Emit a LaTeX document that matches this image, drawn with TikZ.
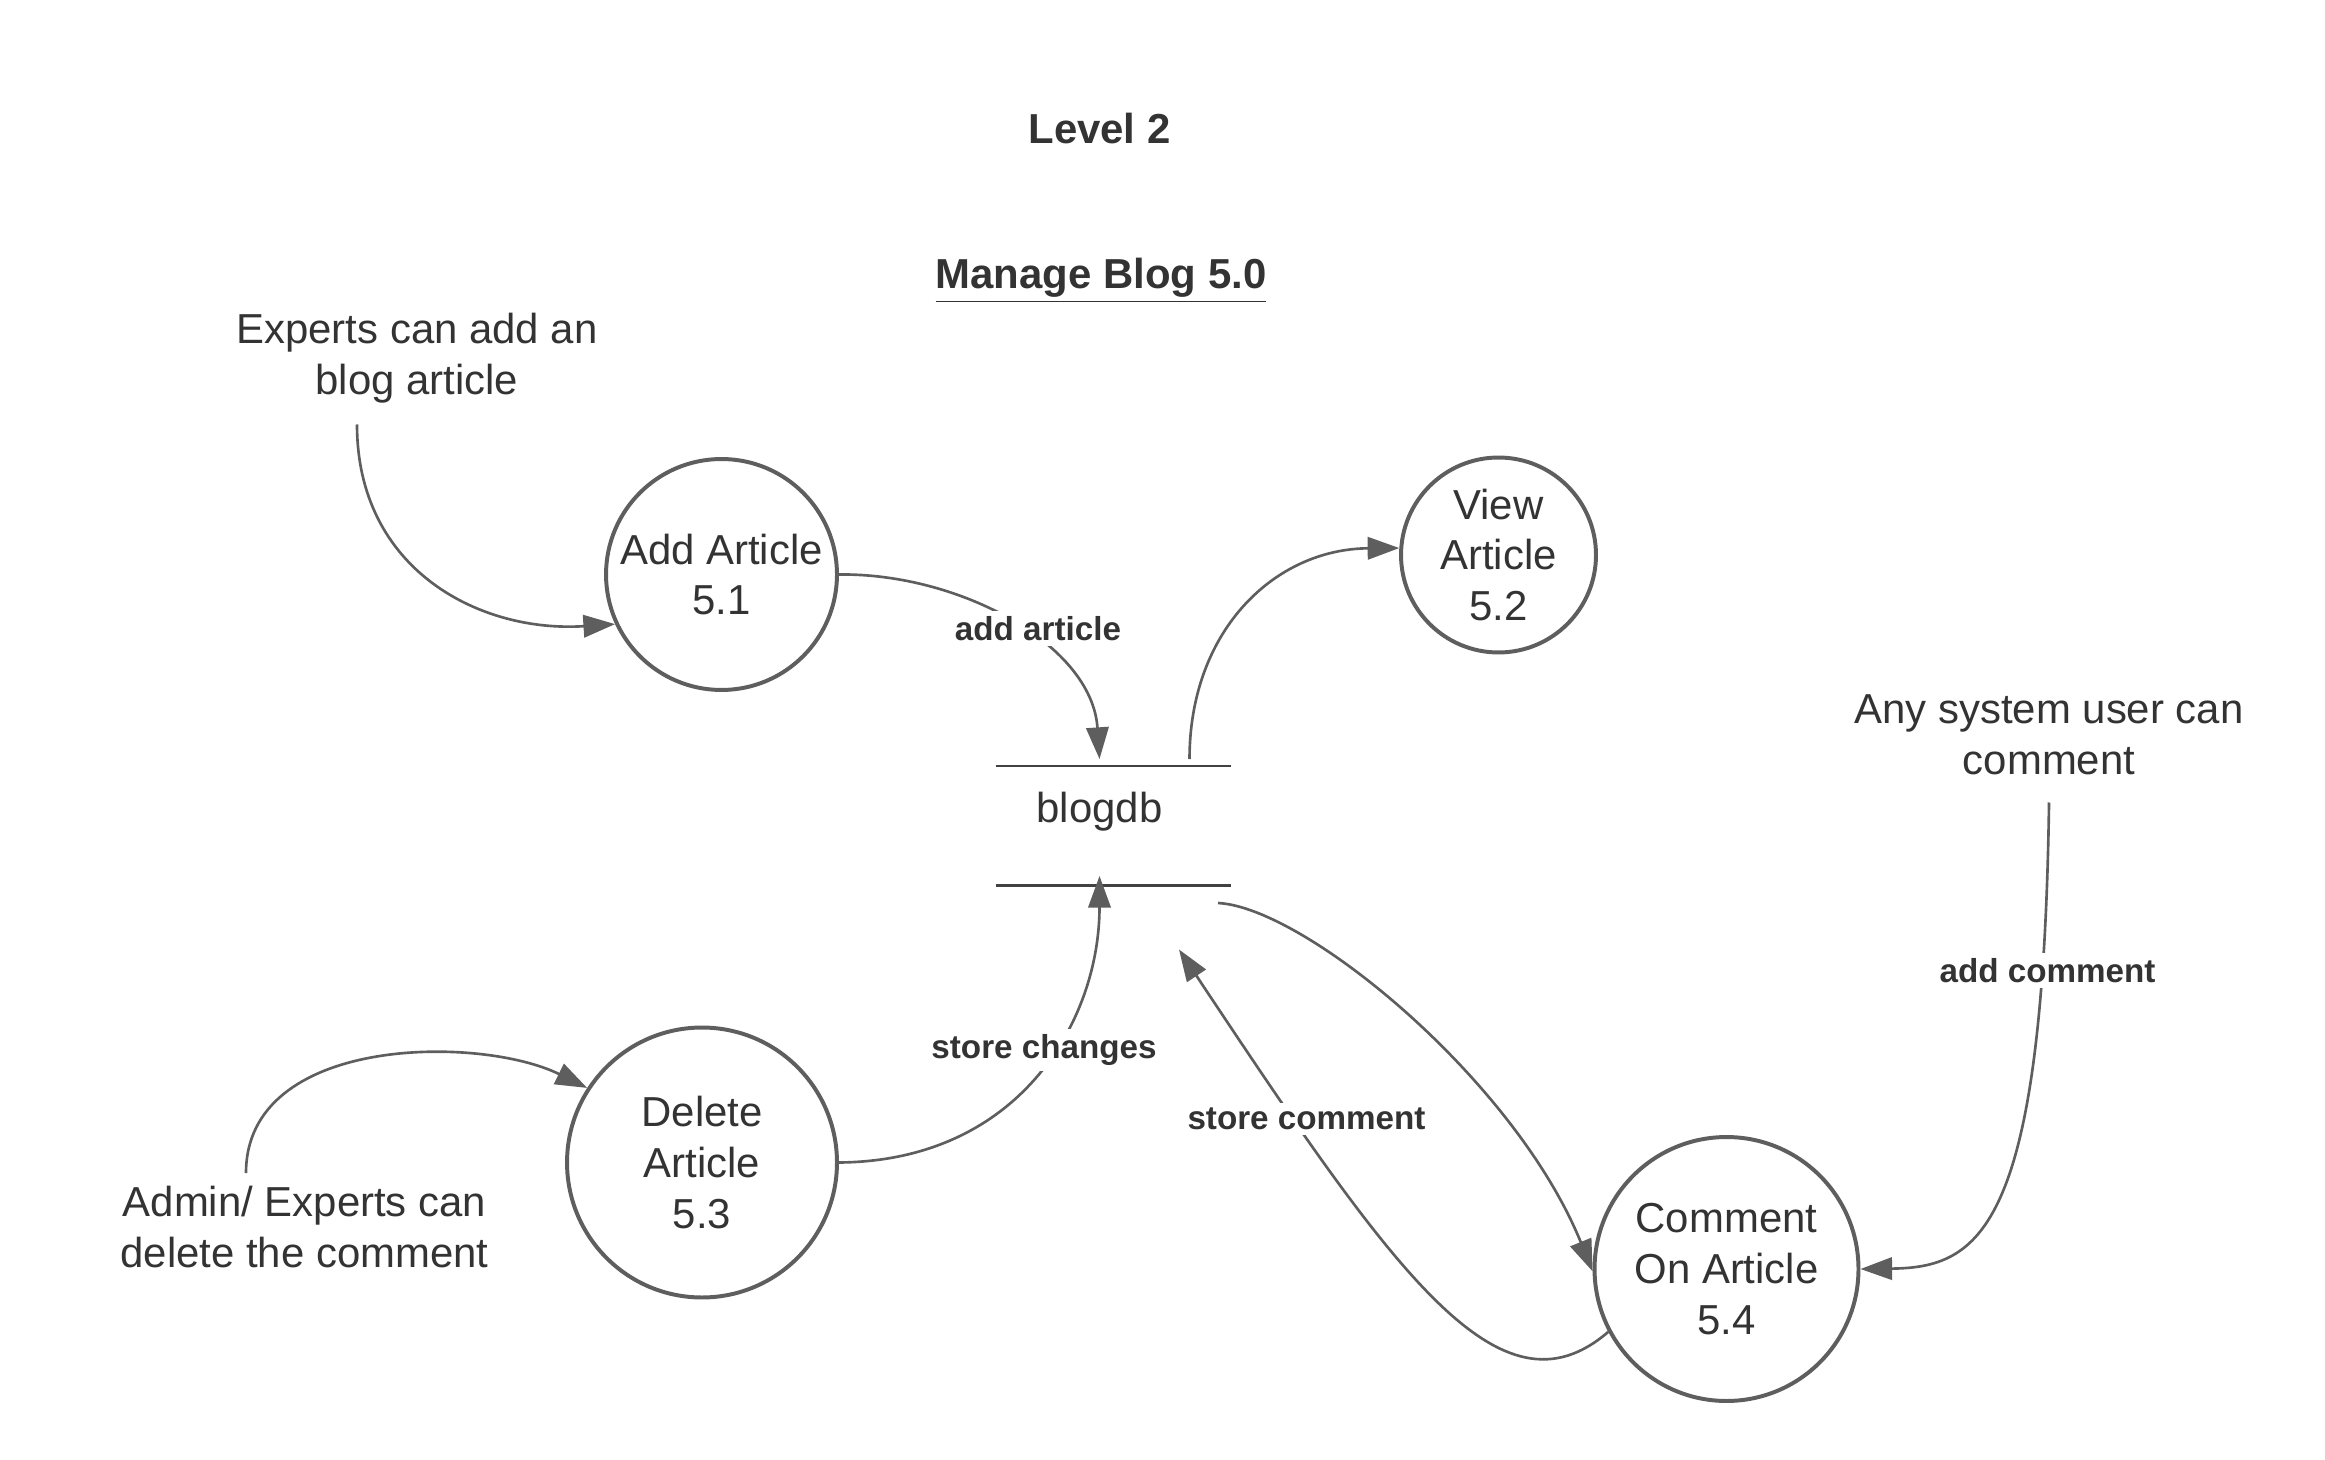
\documentclass[tikz,border=0pt]{standalone}
\usepackage{fontspec}
\setmainfont{Liberation Sans}
\usetikzlibrary{arrows.meta}
\definecolor{linegray}{HTML}{5E5E5E}
\definecolor{txtgray}{HTML}{333333}
\begin{document}
\begin{tikzpicture}[x=0.02cm,y=-0.02cm,
  txt/.style={text=txtgray,align=center,inner sep=1pt,font=\fontsize{15.9}{19.3}\selectfont},
  ttl/.style={text=txtgray,align=center,inner sep=1pt,font=\fontsize{15.9}{19.3}\selectfont\bfseries},
  proc/.style={circle,draw=linegray,line width=1.5pt,text=txtgray,align=center,inner sep=0pt,font=\fontsize{15.9}{19.3}\selectfont},
  flowlbl/.style={fill=white,text=txtgray,inner sep=2pt,font=\fontsize{12.6}{15}\selectfont\bfseries},
  flow/.style={draw=linegray,line width=1pt,-{Triangle[length=12pt,width=8.5pt]}},
  plain/.style={draw=linegray,line width=1pt},
  storeline/.style={draw=linegray!70!black,line width=1.1pt}
]
\useasboundingbox (0,0) rectangle (1550,972.67);
\fill[white] (0,0) rectangle (1550,972.67);

\node[ttl] (lvl) at (733,86) {Level 2};
\node[ttl] (mgr) at (734,187) {\underline{Manage Blog 5.0}};

\node[txt] (exp) at (278,239) {Experts can add an\\blog article};
\node[txt] (any) at (1366,490) {Any system user can\\comment};
\node[txt] (adm) at (203,818) {Admin/ Experts can\\delete the comment};

\node[proc,minimum size=3.08cm] (add) at (481,383) {Add Article\\5.1};
\node[proc,minimum size=2.6cm] (view) at (999,370) {View\\Article\\5.2};
\node[proc,minimum size=3.6cm] (del) at (468,775) {Delete\\Article\\5.3};
\node[proc,minimum size=3.52cm] (com) at (1151,846) {Comment\\On Article\\5.4};

% data store
\node[minimum width=3.12cm,minimum height=1.58cm,inner sep=0pt] (db) at (742,550.5) {};
\draw[storeline] (db.north west) -- (db.north east);
\draw[storeline] (db.south west) -- (db.south east);
\node[txt] (dbl) at (733,541) {blogdb};

\coordinate (expEnd) at (238,283);
\coordinate (admEnd) at (164,782);
\coordinate (anyEnd) at (1366,535);
\coordinate (dbTopIn) at (733,506);
\coordinate (dbTopOut) at (793,506);
\coordinate (dbBotIn) at (733,584);
\coordinate (dbBotOut) at (812,602);
\coordinate (dbCmtIn) at (786,633);

\draw[flow] (expEnd) .. controls (238,380) and (320,422) .. (add.205);
\draw[flow] (add.0) .. controls (640,382) and (728,430) .. (dbTopIn);
\draw[flow] (dbTopOut) .. controls (793,420) and (850,366) .. (view.176);
\draw[flow] (del.0) .. controls (680,774) and (733,680) .. (dbBotIn);
\draw[flow] (admEnd) .. controls (164,690) and (320,690) .. (del.147);
\draw[flow] (dbBotOut) .. controls (870,605) and (1010,720) .. (com.181);
\draw[flow] (com.208) .. controls (1000,950) and (930,850) .. (dbCmtIn);
\draw[flow] (anyEnd) .. controls (1362,820) and (1320,845) .. (com.0);

\node[flowlbl] (l1) at (692,419) {add article};
\node[flowlbl] (l2) at (696,700) {store changes};
\node[flowlbl] (l3) at (871,746) {store comment};
\node[flowlbl] (l4) at (1365,647) {add comment};
\end{tikzpicture}
\end{document}
